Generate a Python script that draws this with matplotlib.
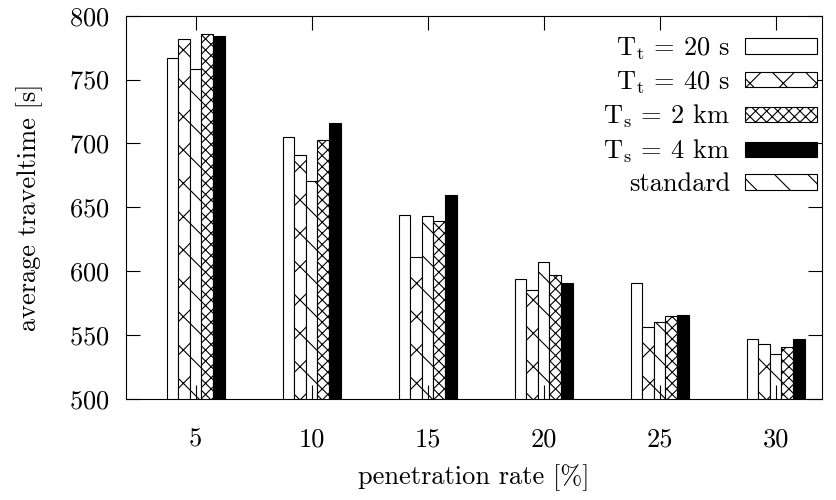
import numpy as np
import matplotlib.pyplot as plt

plt.rcParams['font.family'] = 'cmr10'
plt.rcParams['mathtext.fontset'] = 'cm'
plt.rcParams['axes.formatter.use_mathtext'] = True
plt.rcParams['hatch.linewidth'] = 0.8

rates = ['5', '10', '15', '20', '25', '30']

# werte
tt20 = [767, 705, 644, 594, 591, 547]
tt40 = [782, 691, 611, 585, 556, 543]
standard = [758, 671, 643, 607, 560, 535]
ts2 = [786, 703, 639, 597, 565, 541]
ts4 = [784, 716, 660, 591, 566, 547]

series = [
    (tt20, r'T$_\mathrm{t}$ = 20 s', 'white', ''),
    (tt40, r'T$_\mathrm{t}$ = 40 s', 'white', 'x'),
    (standard, 'standard', 'white', '\\'),
    (ts2, r'T$_\mathrm{s}$ = 2 km', 'white', 'xxx'),
    (ts4, r'T$_\mathrm{s}$ = 4 km', 'black', ''),
]

fig = plt.figure(figsize=(8.36, 5), dpi=100)
ax = fig.add_axes([0.1507, 0.202, 0.8326, 0.7666])

x = np.arange(len(rates))
w = 0.1
bars = {}
for j, (vals, lab, col, hatch) in enumerate(series):
    b = ax.bar(x + (j - 2) * w, vals, w, color=col, edgecolor='black',
               linewidth=0.8, hatch=hatch, label=lab)
    bars[lab] = b

ax.set_xlim(-0.6, 5.4)
ax.set_ylim(500, 800)
ax.set_yticks(np.arange(500, 801, 50))
ax.set_xticks(x)
ax.set_xticklabels(rates)

ax.tick_params(direction='in', length=10, width=0.8, top=True, right=True,
               labelsize=19)
ax.tick_params(axis='x', pad=21)
ax.tick_params(axis='y', pad=11.5)
for s in ax.spines.values():
    s.set_linewidth(0.8)

ax.set_xlabel('penetration rate [%]', fontsize=19)
ax.xaxis.set_label_coords(0.5, -0.206)
ax.xaxis.label.set_va('center')
ax.set_ylabel('average traveltime [s]', fontsize=19)
ax.yaxis.set_label_coords(-0.138, 0.5)
ax.yaxis.label.set_va('center')

order = [r'T$_\mathrm{t}$ = 20 s', r'T$_\mathrm{t}$ = 40 s',
         r'T$_\mathrm{s}$ = 2 km', r'T$_\mathrm{s}$ = 4 km', 'standard']
ax.legend([bars[k] for k in order], order, loc='upper right',
          bbox_to_anchor=(1.0, 0.963),
          frameon=False, fontsize=19, markerfirst=False,
          handlelength=2.73, handleheight=0.53, handletextpad=0.55,
          labelspacing=0.28, borderaxespad=0, borderpad=0.2)

fig.savefig('out.png', dpi=100)
